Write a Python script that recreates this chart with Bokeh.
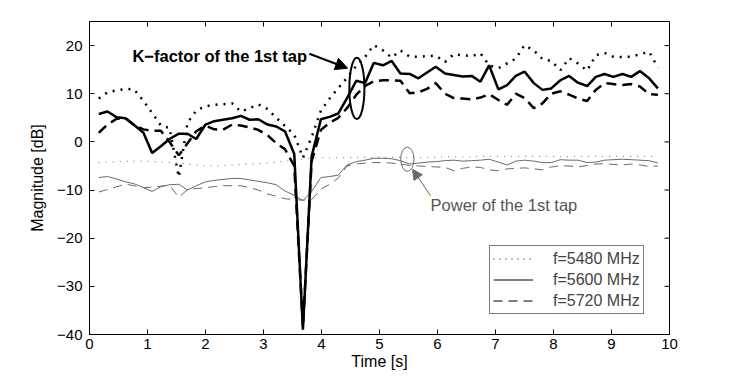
import math
from bokeh.plotting import figure
from bokeh.models import (Range1d, FixedTicker, Arrow, NormalHead,
                          Label, Legend, LegendItem)
from bokeh.embed import file_html
from bokeh.resources import INLINE

# ---------------- data ----------------
time_s = [0.16, 0.31, 0.47, 0.62, 0.77, 0.93, 1.08, 1.23, 1.38, 1.54,
          1.69, 1.84, 2.00, 2.15, 2.30, 2.46, 2.61, 2.76, 2.91, 3.07,
          3.22, 3.37, 3.53, 3.68, 3.83, 3.99, 4.14, 4.29, 4.44, 4.60,
          4.75, 4.90, 5.06, 5.21, 5.36, 5.52, 5.67, 5.82, 5.97, 6.13,
          6.28, 6.43, 6.59, 6.74, 6.89, 7.05, 7.20, 7.35, 7.50, 7.66,
          7.81, 7.96, 8.12, 8.27, 8.42, 8.58, 8.73, 8.88, 9.03, 9.19,
          9.34, 9.49, 9.65, 9.80]

# K-factor of the 1st tap [dB]
k_5480 = [9.0, 10.3, 10.7, 11.0, 10.9, 8.5, 6.0, 3.4, 2.9, -7.3,
          4.0, 6.5, 7.4, 7.7, 7.8, 8.0, 6.3, 7.0, 7.8, 6.8,
          5.0, 3.3, 1.5, -3.3, 1.0, 6.5, 9.0, 11.2, 13.3, 15.8,
          17.6, 20.1, 19.0, 17.5, 19.0, 17.7, 17.7, 17.8, 17.9, 16.6,
          18.2, 18.0, 17.8, 18.4, 15.9, 15.3, 16.3, 17.3, 20.1, 19.0,
          17.2, 16.8, 14.9, 17.4, 16.3, 14.8, 18.0, 18.5, 17.7, 17.6,
          17.7, 18.2, 18.7, 15.4]
k_5600 = [5.8, 6.3, 5.1, 4.9, 3.5, 1.9, -2.3, -0.9, 0.6, 1.7,
          1.7, 0.6, 3.6, 4.3, 4.6, 4.9, 5.4, 4.6, 4.7, 3.6,
          3.2, 2.2, -2.5, -39.0, -3.0, 4.7, 5.2, 5.9, 9.1, 12.7,
          12.2, 16.4, 15.9, 16.8, 14.2, 14.1, 13.2, 14.4, 15.6, 14.2,
          13.9, 13.6, 13.7, 12.5, 15.9, 10.9, 11.8, 13.7, 14.6, 12.2,
          10.8, 11.1, 12.8, 13.7, 12.3, 11.6, 13.5, 14.1, 13.5, 14.1,
          13.5, 14.7, 13.2, 11.1]
k_5720 = [1.9, 3.6, 4.8, 4.9, 3.5, 2.6, 2.3, 2.3, 0.0, -2.8,
          -0.3, 2.2, 3.4, 2.6, 2.5, 3.6, 3.4, 3.0, 2.5, 1.4,
          -0.3, -1.5, -5.0, -38.5, -4.0, 2.5, 4.0, 5.0, 7.0, 9.8,
          11.6, 12.6, 12.8, 12.8, 12.7, 10.1, 10.3, 11.0, 12.2, 10.0,
          9.1, 9.0, 8.8, 9.2, 9.9, 8.7, 7.7, 10.0, 9.1, 7.0,
          8.0, 10.0, 10.5, 9.8, 9.0, 8.5, 10.8, 12.2, 12.0, 11.8,
          12.0, 11.5, 9.9, 9.8]

# Power of the 1st tap [dB]
p_5480 = [-4.3, -4.2, -4.1, -4.0, -4.0, -4.0, -4.1, -4.2, -4.3, -4.4,
          -4.6, -4.8, -5.0, -5.0, -4.9, -4.8, -4.7, -4.6, -4.5, -4.4,
          -4.2, -4.0, -3.8, -3.6, -3.4, -3.3, -3.3, -3.3, -3.3, -3.2,
          -3.2, -3.2, -3.2, -3.2, -3.2, -3.3, -3.3, -3.2, -3.2, -3.1,
          -3.1, -3.1, -3.1, -3.0, -3.0, -3.0, -3.0, -3.0, -3.0, -3.0,
          -3.0, -3.0, -3.1, -3.0, -3.0, -3.0, -3.0, -3.0, -3.0, -3.0,
          -3.0, -3.0, -3.0, -3.0]
p_5600 = [-7.4, -7.2, -7.7, -8.3, -8.7, -9.5, -10.3, -9.3, -8.9, -8.8,
          -10.0, -9.1, -8.3, -8.0, -7.8, -7.6, -7.6, -7.9, -8.2, -8.5,
          -8.9, -10.2, -11.1, -12.2, -10.3, -7.4, -7.2, -6.9, -4.8, -4.1,
          -3.8, -3.4, -3.4, -3.5, -3.9, -4.6, -4.4, -4.2, -4.1, -3.9,
          -3.8, -4.0, -3.9, -3.8, -3.6, -4.2, -4.8, -4.0, -3.8, -4.0,
          -4.3, -4.3, -3.7, -3.8, -3.8, -4.3, -4.2, -3.8, -3.7, -3.6,
          -3.7, -3.8, -3.9, -4.4]
p_5720 = [-10.4, -9.9, -9.3, -8.8, -9.1, -9.5, -9.4, -9.2, -9.0, -11.5,
          -9.9, -9.7, -9.5, -9.3, -9.1, -9.1, -9.1, -9.5, -10.0, -10.8,
          -11.3, -11.8, -12.0, -12.1, -12.0, -9.8, -8.8, -7.5, -5.0, -4.6,
          -4.4, -4.3, -4.3, -4.4, -4.6, -4.9, -5.0, -5.1, -5.2, -5.3,
          -6.0, -5.5, -5.2, -5.3, -5.8, -6.0, -5.6, -5.5, -5.4, -5.6,
          -5.8, -5.2, -5.0, -5.0, -5.2, -4.9, -4.6, -4.5, -4.7, -4.8,
          -4.6, -4.8, -5.1, -5.0]

x_ticks = [0, 1, 2, 3, 4, 5, 6, 7, 8, 9, 10]
x_tick_labels = ["0", "1", "2", "3", "4", "5", "6", "7", "8", "9", "10"]
y_ticks = [-40, -30, -20, -10, 0, 10, 20]
y_tick_labels = ["\u221240", "\u221230", "\u221220", "\u221210", "0", "10", "20"]
legend_labels = ["f=5480 MHz", "f=5600 MHz", "f=5720 MHz"]

# ---------------- figure ----------------
FONT = "Liberation Sans"
GRAY = "#6a6a6a"
X0, X1, Y0, Y1 = 0, 10, -40, 25

p = figure(width=731, height=372, output_backend="svg", toolbar_location=None,
           x_range=Range1d(X0, X1), y_range=Range1d(Y0, Y1),
           min_border_left=89, min_border_right=62, min_border_top=21,
           min_border_bottom=37)
p.background_fill_color = "white"
p.border_fill_color = "white"
p.outline_line_color = "black"
p.outline_line_width = 1
p.xgrid.visible = False
p.ygrid.visible = False

# power lines (thin gray)
p.line(time_s, p_5480, line_color=GRAY, line_width=1, line_dash="1 6")
p.line(time_s, p_5600, line_color=GRAY, line_width=1)
p.line(time_s, p_5720, line_color=GRAY, line_width=1, line_dash="9 6")

# K-factor lines (thick black)
p.line(time_s, k_5480, line_color="black", line_width=2.5, line_dash="2 6")
p.line(time_s, k_5600, line_color="black", line_width=2.5)
p.line(time_s, k_5720, line_color="black", line_width=2.5, line_dash="10 6")

# legend keys: thin black line styles (a single point each, so nothing is drawn in the plot)
lg1 = p.line(time_s[:1], p_5480[:1], line_color="black", line_width=1, line_dash="1 5")
lg2 = p.line(time_s[:1], p_5600[:1], line_color="black", line_width=1)
lg3 = p.line(time_s[:1], p_5720[:1], line_color="black", line_width=1, line_dash="9 6")

# annotations
p.ellipse(x=[4.61], y=[11.1], width=0.26, height=12.7, fill_alpha=0,
          line_color="black", line_width=2)
p.ellipse(x=[5.48], y=[-3.6], width=0.23, height=5.0, fill_alpha=0,
          line_color=GRAY, line_width=1)

p.add_layout(Arrow(end=NormalHead(size=12, fill_color="black", line_color="black"),
                   x_start=3.79, y_start=18.3, x_end=4.45, y_end=15.3,
                   line_color="black", line_width=2))
p.add_layout(Arrow(end=NormalHead(size=10, fill_color=GRAY, line_color=GRAY),
                   x_start=5.88, y_start=-11.2, x_end=5.57, y_end=-5.7,
                   line_color=GRAY, line_width=1))

p.add_layout(Label(x=0.74, y=17.8, text="K\u2212factor of the 1st tap",
                   text_font=FONT, text_font_style="bold", text_font_size="16.5px",
                   text_baseline="middle", text_align="left", text_color="black"))
p.add_layout(Label(x=5.88, y=-13.2, text="Power of the 1st tap",
                   text_font=FONT, text_font_size="16.5px", text_color="#555555",
                   text_baseline="middle", text_align="left"))

# axes (bottom / left with labels)
for ax, ticks, labels in ((p.xaxis[0], x_ticks, x_tick_labels),
                          (p.yaxis[0], y_ticks, y_tick_labels)):
    ax.ticker = FixedTicker(ticks=ticks)
    ax.major_label_overrides = dict(zip(ticks, labels))
    ax.axis_line_color = "black"
    ax.major_tick_line_color = "black"
    ax.major_tick_in = 5
    ax.major_tick_out = 0
    ax.minor_tick_line_color = None
    ax.major_label_text_font = FONT
    ax.major_label_text_font_size = "15px"
    ax.major_label_text_color = "black"
    ax.axis_label_text_font = FONT
    ax.axis_label_text_font_size = "16px"
    ax.axis_label_text_font_style = "normal"
    ax.axis_label_text_color = "black"
p.xaxis.axis_label = "Time [s]"
p.yaxis.axis_label = "Magnitude [dB]"
p.xaxis.major_label_standoff = 4
p.xaxis.axis_label_standoff = 1
p.yaxis.major_label_standoff = 7
p.yaxis.axis_label_standoff = 8

# inward tick marks on the top and right edges of the box (clipped to the frame)
p.scatter(x_ticks, [Y1] * len(x_ticks), marker="dash", size=10,
          angle=math.pi / 2, line_color="black", line_width=1)
p.scatter([X1] * len(y_ticks), y_ticks, marker="dash", size=10,
          line_color="black", line_width=1)

legend = Legend(items=[LegendItem(label=legend_labels[0], renderers=[lg1]),
                       LegendItem(label=legend_labels[1], renderers=[lg2]),
                       LegendItem(label=legend_labels[2], renderers=[lg3])],
                location=(400, 20))
legend.border_line_color = "black"
legend.border_line_width = 1
legend.background_fill_color = "white"
legend.background_fill_alpha = 1
legend.label_text_font = FONT
legend.label_text_font_size = "16px"
legend.glyph_width = 40
legend.glyph_height = 19
legend.label_height = 19
legend.label_standoff = 20
legend.spacing = 2
legend.padding = 3
legend.margin = 0
p.add_layout(legend, "center")

open("out.html", "w").write(file_html(p, INLINE))
